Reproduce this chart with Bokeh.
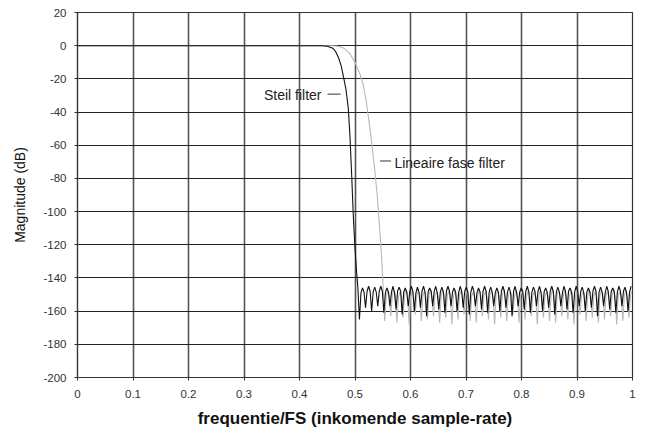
from bokeh.plotting import figure
from bokeh.models import Range1d, FixedTicker, CustomJSTickFormatter
from bokeh.core.properties import value
from bokeh.embed import file_html
from bokeh.resources import INLINE

# ---- data ----
x_ticks = [0, 0.1, 0.2, 0.3, 0.4, 0.5, 0.6, 0.7, 0.8, 0.9, 1.0]
y_ticks = [-200, -180, -160, -140, -120, -100, -80, -60, -40, -20, 0, 20]

# Steil filter: passband + transition
steil_trans_x = [0, 0.44, 0.45, 0.46, 0.465, 0.47, 0.475, 0.48, 0.484, 0.488, 0.491, 0.494, 0.497, 0.500, 0.503, 0.505]
steil_trans_y = [0, 0, -0.3, -1.5, -3.5, -7, -12, -20, -27, -38, -55, -78, -103, -122, -137, -145]
# Steil filter: stopband notches, lobe peaks and lobe shoulders
steil_notch_x = [0.508, 0.519, 0.530, 0.541, 0.552, 0.563, 0.574, 0.585, 0.596, 0.607, 0.618, 0.629, 0.640, 0.651, 0.662,
                 0.673, 0.684, 0.695, 0.706, 0.717, 0.728, 0.739, 0.750, 0.761, 0.772, 0.783, 0.794, 0.805, 0.816, 0.827,
                 0.838, 0.849, 0.860, 0.871, 0.882, 0.893, 0.904, 0.915, 0.926, 0.937, 0.948, 0.959, 0.970, 0.981, 0.992]
steil_notch_y = [-165, -158, -160, -157, -161, -157, -159, -162, -157, -160, -158, -163, -157, -159, -161,
                 -157, -160, -158, -162, -157, -159, -161, -157, -160, -158, -163, -157, -159, -161, -157,
                 -160, -158, -162, -157, -159, -161, -157, -160, -158, -163, -157, -159, -161, -157, -160]
steil_peak_x = [0.5135, 0.5245, 0.5355, 0.5465, 0.5575, 0.5685, 0.5795, 0.5905, 0.6015, 0.6125, 0.6235, 0.6345, 0.6455,
                0.6565, 0.6675, 0.6785, 0.6895, 0.7005, 0.7115, 0.7225, 0.7335, 0.7445, 0.7555, 0.7665, 0.7775, 0.7885,
                0.7995, 0.8105, 0.8215, 0.8325, 0.8435, 0.8545, 0.8655, 0.8765, 0.8875, 0.8985, 0.9095, 0.9205, 0.9315,
                0.9425, 0.9535, 0.9645, 0.9755, 0.9865, 0.9975]
steil_peak_y = [-146, -145, -145.5, -145, -146, -145, -145.5, -146, -145, -145.5, -145, -146, -145, -145.5, -145,
                -146, -145, -145.5, -145, -146, -145, -145.5, -146, -145, -145.5, -145, -146, -145, -145.5, -145,
                -146, -145, -145.5, -145, -146, -145, -145.5, -146, -145, -145.5, -145, -146, -145, -145.5, -145]
steil_shoulder_x = [0.51075, 0.51625, 0.52175, 0.52725, 0.53275, 0.53825, 0.54375, 0.54925, 0.55475, 0.56025,
                    0.56575, 0.57125, 0.57675, 0.58225, 0.58775, 0.59325, 0.59875, 0.60425, 0.60975, 0.61525,
                    0.62075, 0.62625, 0.63175, 0.63725, 0.64275, 0.64825, 0.65375, 0.65925, 0.66475, 0.67025,
                    0.67575, 0.68125, 0.68675, 0.69225, 0.69775, 0.70325, 0.70875, 0.71425, 0.71975, 0.72525,
                    0.73075, 0.73625, 0.74175, 0.74725, 0.75275, 0.75825, 0.76375, 0.76925, 0.77475, 0.78025,
                    0.78575, 0.79125, 0.79675, 0.80225, 0.80775, 0.81325, 0.81875, 0.82425, 0.82975, 0.83525,
                    0.84075, 0.84625, 0.85175, 0.85725, 0.86275, 0.86825, 0.87375, 0.87925, 0.88475, 0.89025,
                    0.89575, 0.90125, 0.90675, 0.91225, 0.91775, 0.92325, 0.92875, 0.93425, 0.93975, 0.94525,
                    0.95075, 0.95625, 0.96175, 0.96725, 0.97275, 0.97825, 0.98375, 0.98925, 0.99475]
steil_shoulder_y = [-149, -148.5, -148, -148, -148.5, -148.5, -148, -148, -149, -148.5,
                    -148.5, -149, -148, -148, -148.5, -148.5, -148, -148, -149, -148.5,
                    -148, -148.5, -148.5, -148, -148, -149, -148.5, -148.5, -148, -148,
                    -148.5, -148.5, -149, -148, -148, -148.5, -148.5, -148, -149, -148.5,
                    -148, -148, -148.5, -148.5, -149, -148.5, -148, -148, -148.5, -148.5,
                    -148, -149, -148.5, -148, -148, -148.5, -148.5, -148, -148, -149,
                    -148.5, -148.5, -148, -148, -148.5, -148.5, -149, -148, -148, -148.5,
                    -148.5, -148, -148, -149, -148.5, -148.5, -148, -148, -148.5, -148.5,
                    -149, -148, -148, -148.5, -148.5, -148, -148, -149, -148.5]

# Lineaire fase filter: passband + transition
lin_trans_x = [0, 0.46, 0.47, 0.48, 0.49, 0.5, 0.505, 0.51, 0.515, 0.52, 0.525, 0.53, 0.535, 0.54, 0.544, 0.548, 0.551]
lin_trans_y = [0, 0, -0.3, -1.5, -4.5, -10, -14, -18, -24, -33, -45, -58, -73, -90, -108, -128, -148]
lin_notch_x = [0.5535, 0.5645, 0.5755, 0.5865, 0.5975, 0.6085, 0.6195, 0.6305, 0.6415, 0.6525, 0.6635, 0.6745, 0.6855,
               0.6965, 0.7075, 0.7185, 0.7295, 0.7405, 0.7515, 0.7625, 0.7735, 0.7845, 0.7955, 0.8065, 0.8175, 0.8285,
               0.8395, 0.8505, 0.8615, 0.8725, 0.8835, 0.8945, 0.9055, 0.9165, 0.9275, 0.9385, 0.9495, 0.9605, 0.9715,
               0.9825, 0.9935]
lin_notch_y = [-166, -163, -167, -164, -168, -162, -166, -165, -163, -167, -164, -168, -165, -162, -166, -167, -163,
               -165, -168, -164, -166, -162, -167, -165, -163, -168, -164, -166, -167, -163, -165, -168, -162, -166,
               -164, -167, -165, -163, -168, -166, -164]
lin_peak_x = [0.559, 0.570, 0.581, 0.592, 0.603, 0.614, 0.625, 0.636, 0.647, 0.658, 0.669, 0.680, 0.691, 0.702, 0.713,
              0.724, 0.735, 0.746, 0.757, 0.768, 0.779, 0.790, 0.801, 0.812, 0.823, 0.834, 0.845, 0.856, 0.867, 0.878,
              0.889, 0.900, 0.911, 0.922, 0.933, 0.944, 0.955, 0.966, 0.977, 0.988, 0.999]
lin_peak_y = [-148, -147, -148.5, -147, -148, -147.5, -148, -147, -148.5, -147, -148, -147.5, -148, -147, -148.5,
              -147, -148, -147.5, -148, -147, -148.5, -147, -148, -147.5, -148, -147, -148.5, -147, -148, -147.5,
              -148, -147, -148.5, -147, -148, -147.5, -148, -147, -148.5, -147, -148]
lin_shoulder_x = [0.55625, 0.56175, 0.56725, 0.57275, 0.57825, 0.58375, 0.58925, 0.59475, 0.60025, 0.60575,
                  0.61125, 0.61675, 0.62225, 0.62775, 0.63325, 0.63875, 0.64425, 0.64975, 0.65525, 0.66075,
                  0.66625, 0.67175, 0.67725, 0.68275, 0.68825, 0.69375, 0.69925, 0.70475, 0.71025, 0.71575,
                  0.72125, 0.72675, 0.73225, 0.73775, 0.74325, 0.74875, 0.75425, 0.75975, 0.76525, 0.77075,
                  0.77625, 0.78175, 0.78725, 0.79275, 0.79825, 0.80375, 0.80925, 0.81475, 0.82025, 0.82575,
                  0.83125, 0.83675, 0.84225, 0.84775, 0.85325, 0.85875, 0.86425, 0.86975, 0.87525, 0.88075,
                  0.88625, 0.89175, 0.89725, 0.90275, 0.90825, 0.91375, 0.91925, 0.92475, 0.93025, 0.93575,
                  0.94125, 0.94675, 0.95225, 0.95775, 0.96325, 0.96875, 0.97425, 0.97975, 0.98525, 0.99075,
                  0.99625]
lin_shoulder_y = [-151, -150.5, -150, -150.5, -151.5, -151, -150.5, -150, -151, -151.5,
                  -150.5, -150, -151, -151, -150.5, -151.5, -150, -150.5, -151, -151,
                  -150.5, -150, -151.5, -151, -150.5, -150.5, -151, -150, -151, -151.5,
                  -150.5, -150, -151, -151, -150.5, -151.5, -150, -150.5, -151, -151,
                  -150.5, -150, -151.5, -151, -150.5, -150.5, -151, -150, -151, -151.5,
                  -150.5, -150, -151, -151, -150.5, -151.5, -150, -150.5, -151, -151,
                  -150.5, -150, -151.5, -151, -150.5, -150.5, -151, -150, -151, -151.5,
                  -150.5, -150, -151, -151, -150.5, -151.5, -150, -150.5, -151, -151,
                  -150.5]

annot_text = ["Steil filter", "Lineaire fase filter"]


def combine(tx, ty, *pairs):
    xs, ys = [], []
    for px, py in pairs:
        xs += px
        ys += py
    pts = sorted(zip(xs, ys))
    return tx + [q[0] for q in pts], ty + [q[1] for q in pts]


steil_x, steil_y = combine(steil_trans_x, steil_trans_y, (steil_notch_x, steil_notch_y),
                           (steil_peak_x, steil_peak_y), (steil_shoulder_x, steil_shoulder_y))
lin_x, lin_y = combine(lin_trans_x, lin_trans_y, (lin_notch_x, lin_notch_y),
                       (lin_peak_x, lin_peak_y), (lin_shoulder_x, lin_shoulder_y))

FONT = "Liberation Sans"

p = figure(width=637, height=430, output_backend="svg", toolbar_location=None,
           x_range=Range1d(0, 1), y_range=Range1d(-200, 20),
           min_border_left=77, min_border_right=5, min_border_top=12, min_border_bottom=50)
p.background_fill_color = "white"
p.border_fill_color = "white"
p.outline_line_color = "#333333"
p.outline_line_width = 1.2

# grids
p.xgrid.ticker = FixedTicker(ticks=x_ticks)
p.ygrid.ticker = FixedTicker(ticks=y_ticks)
p.xgrid.grid_line_color = "#555555"
p.xgrid.grid_line_width = 1.6
p.ygrid.grid_line_color = "#222222"
p.ygrid.grid_line_width = 1.1

# axes
for ax in (p.xaxis[0], p.yaxis[0]):
    ax.axis_line_color = "#333333"
    ax.axis_line_width = 1.2
    ax.major_tick_line_color = "#333333"
    ax.major_tick_in = 0
    ax.major_tick_out = 3
    ax.minor_tick_line_color = None
    ax.major_label_text_font = FONT
    ax.major_label_text_font_size = "11.5px"
    ax.major_label_text_color = "#333333"
    ax.axis_label_text_font = FONT
    ax.axis_label_text_color = "#111111"

p.xaxis.ticker = FixedTicker(ticks=x_ticks)
p.yaxis.ticker = FixedTicker(ticks=y_ticks)
p.xaxis.formatter = CustomJSTickFormatter(code="return tick.toFixed(1).replace(/\\.0$/, '');")
p.yaxis.formatter = CustomJSTickFormatter(code="return String(Math.round(tick));")
p.xaxis.major_label_standoff = 9
p.yaxis.major_label_standoff = 8

p.xaxis.axis_label = "frequentie/FS (inkomende sample-rate)"
p.xaxis.axis_label_text_font_style = "bold"
p.xaxis.axis_label_text_font_size = "17px"
p.xaxis.axis_label_standoff = 8

p.yaxis.axis_label = "Magnitude (dB)"
p.yaxis.axis_label_text_font_style = "normal"
p.yaxis.axis_label_text_font_size = "14px"
p.yaxis.axis_label_standoff = 12

# curves
p.line(lin_x, lin_y, line_color="#b8b8b8", line_width=1.1)
p.line(steil_x, steil_y, line_color="#111111", line_width=1.1)

# annotations (leader line + text)
p.segment(x0=[0.4505, 0.545], y0=[-29.2, -69.5], x1=[0.474, 0.565], y1=[-29.2, -69.5],
          line_color="#333333", line_width=1)
p.text(x=[0.4396], y=[-29.6], text=[annot_text[0]], text_align="right", text_baseline="middle",
       text_font=value(FONT), text_font_size="14px", text_color="#222222")
p.text(x=[0.571], y=[-70.5], text=[annot_text[1]], text_align="left", text_baseline="middle",
       text_font=value(FONT), text_font_size="14px", text_color="#222222")

open("out.html", "w").write(file_html(p, INLINE))
